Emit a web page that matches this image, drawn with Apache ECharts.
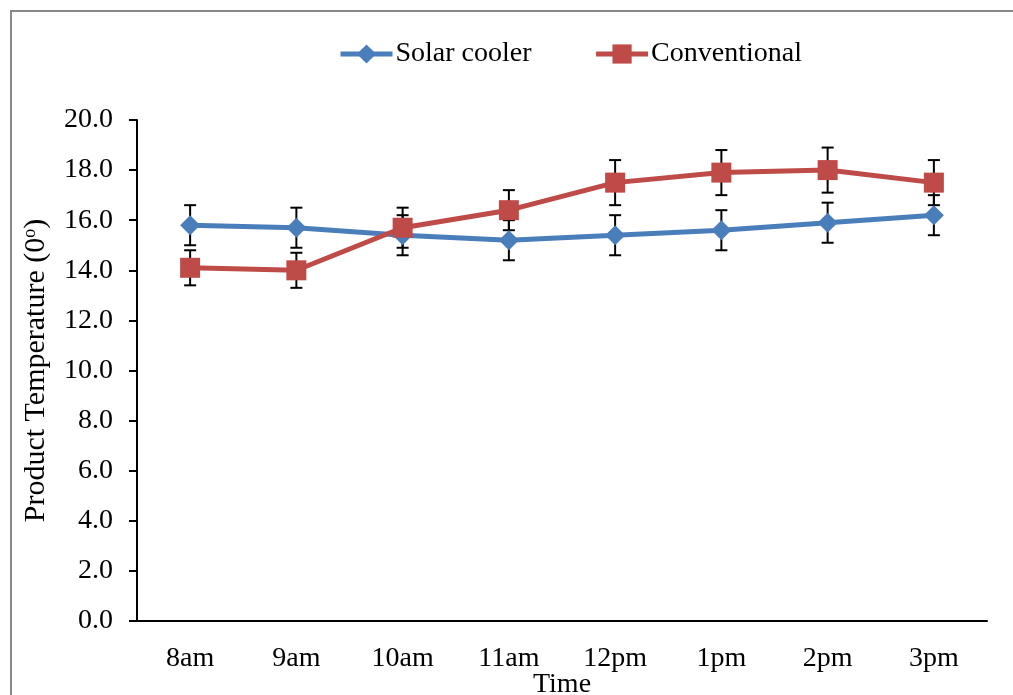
<!DOCTYPE html>
<html>
<head>
<meta charset="utf-8">
<script src="https://cdn.jsdelivr.net/npm/echarts@6/dist/echarts.min.js"></script>
<style>
	html, body { margin: 0; padding: 0; background: #fff; }
	#chart { width: 1013px; height: 695px; }
</style>
</head>
<body>
<div id="chart"></div>
<script>
// data
var times = [ "8am", "9am", "10am", "11am", "12pm", "1pm", "2pm", "3pm" ];
var solarCooler = [ 15.8, 15.7, 15.4, 15.2, 15.4, 15.6, 15.9, 16.2 ];
var solarErr = [ 0.8, 0.8, 0.8, 0.8, 0.8, 0.8, 0.8, 0.8 ];
var conventional = [ 14.1, 14.0, 15.7, 16.4, 17.5, 17.9, 18.0, 17.5 ];
var convErr = [ 0.7, 0.7, 0.8, 0.8, 0.9, 0.9, 0.9, 0.9 ];

var font = "'Liberation Serif', 'Times New Roman', serif";
var chart = echarts.init(document.getElementById("chart"));

// error bar data: [index, low, high]
function errData(vals, errs) {
	var out = [];
	for (var i = 0; i < vals.length; i++) {
		out.push([ i, vals[i] - errs[i], vals[i] + errs[i] ]);
	}
	return out;
}

function renderErr(params, api) {
	var x = api.coord([ api.value(0), api.value(1) ])[0];
	var lo = api.coord([ api.value(0), api.value(1) ])[1];
	var hi = api.coord([ api.value(0), api.value(2) ])[1];
	var hw = 6;
	var style = { stroke : "#000", lineWidth : 2 };
	return {
		type : "group",
		children : [ {
			type : "line",
			shape : { x1 : x, y1 : lo, x2 : x, y2 : hi },
			style : style
		}, {
			type : "line",
			shape : { x1 : x - hw, y1 : lo, x2 : x + hw, y2 : lo },
			style : style
		}, {
			type : "line",
			shape : { x1 : x - hw, y1 : hi, x2 : x + hw, y2 : hi },
			style : style
		} ]
	};
}

chart.setOption({
	animation : false,
	textStyle : { fontFamily : font },
	graphic : [ {
		type : "rect",
		shape : { x : 11, y : 11, width : 1100, height : 800 },
		style : { fill : "none", stroke : "#888", lineWidth : 2 },
		silent : true
	} ],
	legend : {
		top : 35,
		left : 333,
		itemWidth : 52,
		itemHeight : 24,
		itemGap : 62,
		lineStyle : { width : 5 },
		textStyle : { fontFamily : font, fontSize : 28, color : "#000", padding : [ 0, 0, 0, -2 ] },
		data : [ "Solar cooler", "Conventional" ]
	},
	grid : {
		left : 137,
		right : 26,
		top : 120,
		bottom : 74,
		containLabel : false,
		outerBoundsMode : "none"
	},
	xAxis : {
		type : "category",
		data : times,
		boundaryGap : true,
		name : "Time",
		nameLocation : "middle",
		nameGap : 50,
		nameMoveOverlap : false,
		nameTextStyle : { fontFamily : font, fontSize : 28, color : "#000" },
		axisLine : { lineStyle : { color : "#000", width : 2 } },
		axisTick : { length : 8, lineStyle : { color : "#000", width : 2 } },
		axisLabel : { fontFamily : font, fontSize : 28, color : "#000", margin : 24 }
	},
	yAxis : {
		type : "value",
		min : 0,
		max : 20,
		interval : 2,
		name : "{a|Product Temperature (0}{b|o}{a|)}",
		nameLocation : "middle",
		nameGap : 86,
		nameMoveOverlap : false,
		nameTextStyle : {
			rich : {
				a : { fontFamily : font, fontSize : 30, color : "#000" },
				b : { fontFamily : font, fontSize : 18, color : "#000", verticalAlign : "top", padding : [ 0, 0, 10, 0 ] }
			}
		},
		splitLine : { show : false },
		axisLine : { show : true, lineStyle : { color : "#000", width : 2 } },
		axisTick : { show : true, length : 8, lineStyle : { color : "#000", width : 2 } },
		axisLabel : {
			fontFamily : font,
			fontSize : 28,
			color : "#000",
			margin : 24,
			formatter : function(v) {
				return v.toFixed(1);
			}
		}
	},
	series : [ {
		name : "solarErr",
		type : "custom",
		renderItem : renderErr,
		data : errData(solarCooler, solarErr),
		z : 1,
		silent : true
	}, {
		name : "convErr",
		type : "custom",
		renderItem : renderErr,
		data : errData(conventional, convErr),
		z : 1,
		silent : true
	}, {
		name : "Solar cooler",
		type : "line",
		data : solarCooler,
		symbol : "diamond",
		symbolSize : 20,
		z : 3,
		lineStyle : { color : "#4a7ebb", width : 5 },
		itemStyle : { color : "#4a7ebb" }
	}, {
		name : "Conventional",
		type : "line",
		data : conventional,
		symbol : "rect",
		symbolSize : 20,
		z : 4,
		lineStyle : { color : "#be4b48", width : 5 },
		itemStyle : { color : "#be4b48" }
	} ]
});
</script>
</body>
</html>
